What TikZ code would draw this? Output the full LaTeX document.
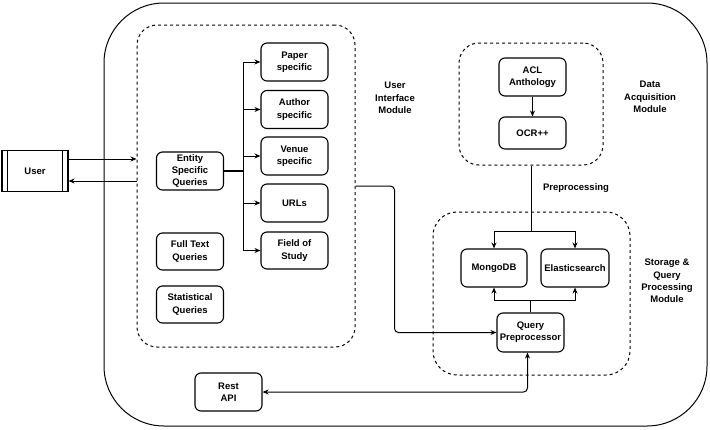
\documentclass[tikz,border=0pt]{standalone}
\usepackage{fontspec}
\setmainfont{Liberation Sans}
\usetikzlibrary{arrows.meta}
\begin{document}
\begin{tikzpicture}[x=1pt,y=-1pt,
  every node/.style={font=\fontsize{9.5}{12.3}\selectfont\bfseries, align=center},
  box/.style={draw, line width=1.1pt, rounded corners=6pt, minimum width=67pt, minimum height=38pt, inner sep=0pt},
  module/.style={draw, line width=1pt, dash pattern=on 3pt off 3pt, rounded corners=20pt, inner sep=0pt},
  lbl/.style={inner sep=0pt},
  conn/.style={line width=1pt},
  arr/.style={line width=1pt, -{Stealth[length=6pt,width=5pt]}},
  arrboth/.style={line width=1pt, {Stealth[length=6pt,width=5pt]}-{Stealth[length=6pt,width=5pt]}}
]
\useasboundingbox (0,0) rectangle (710,429);
% outer frame
\node[draw, line width=1pt, rounded corners=60pt, minimum width=603pt, minimum height=423pt, inner sep=0pt] (outer) at (405.5,214.5) {};
% modules
\node[module, minimum width=218pt, minimum height=322pt] (ui) at (246,186) {};
\node[module, minimum width=144pt, minimum height=122pt] (da) at (531,104) {};
\node[module, minimum width=197pt, minimum height=163pt, rounded corners=24pt] (st) at (531.5,293.5) {};
% user
\node[draw, line width=1.1pt, minimum width=66pt, minimum height=41pt, inner sep=0pt] (user) at (35,171) {User};
\draw[line width=1.1pt] ([xshift=6pt]user.north west) -- ([xshift=6pt]user.south west);
\draw[line width=1.1pt] ([xshift=-6pt]user.north east) -- ([xshift=-6pt]user.south east);
% UI boxes
\node[box] (entity) at (190,171) {Entity\\Specific\\Queries};
\node[box, minimum height=37pt] (full) at (190,251.5) {Full Text\\Queries};
\node[box, minimum height=37pt] (stat) at (190,304.5) {Statistical\\Queries};
\node[box] (paper) at (294.5,62) {Paper\\specific};
\node[box] (author) at (294.5,109.5) {Author\\specific};
\node[box] (venue) at (294.5,156) {Venue\\specific};
\node[box] (urls) at (294.5,203) {URLs};
\node[box, minimum height=37pt] (field) at (294.5,250.5) {Field of\\Study};
% data acquisition
\node[box] (acl) at (532.5,77) {ACL\\Anthology};
\node[box, minimum height=32pt] (ocr) at (532.5,133) {OCR++};
% storage
\node[box, minimum width=66pt] (mongo) at (494,268) {MongoDB};
\node[box, minimum width=68pt] (elastic) at (575,268) {Elasticsearch};
\node[box, minimum height=39pt] (qp) at (530.5,332.5) {Query\\Preprocessor};
% rest api
\node[box] (rest) at (228.5,392) {Rest\\API};
% labels
\node[lbl] (uilbl) at (395,98) {User\\Interface\\Module};
\node[lbl] (dalbl) at (650,97) {Data\\Acquisition\\Module};
\node[lbl] (stlbl) at (667,281) {Storage \&\\Query\\Processing\\Module};
\node[lbl] (pre) at (576,188) {Preprocessing};
% connectors
\draw[arr] ([yshift=12pt]user.east) -- ([yshift=12pt]user.east -| ui.west);
\draw[arr] ([yshift=-10pt]user.east -| ui.west) -- ([yshift=-10pt]user.east);
\coordinate (br) at (243,171);
\draw[line width=1.6pt] (entity.east) -- (br);
\draw[conn] (br |- paper.west) -- (br |- field.west);
\draw[arr] (br |- paper.west) -- (paper.west);
\draw[arr] (br |- author.west) -- (author.west);
\draw[arr] (br |- venue.west) -- (venue.west);
\draw[arr] (br |- urls.west) -- (urls.west);
\draw[arr] (br |- field.west) -- (field.west);
\draw[arr, rounded corners=4pt] (ui.east) -- ++(39,0) |- (qp.west);
\draw[arr] (acl) -- (ocr);
\coordinate (sp1) at (531,231);
\draw[conn] (da.south) -- (sp1);
\draw[arr] (sp1) -| (mongo.north);
\draw[arr] (sp1) -| (elastic.north);
\coordinate (sp2) at (530.5,300);
\draw[conn] (qp.north) -- (sp2);
\draw[arr] (sp2) -| (mongo.south);
\draw[arr] (sp2) -| (elastic.south);
\draw[arrboth, rounded corners=4pt] ([xshift=-3pt]qp.south) |- (rest.east);
\end{tikzpicture}
\end{document}
